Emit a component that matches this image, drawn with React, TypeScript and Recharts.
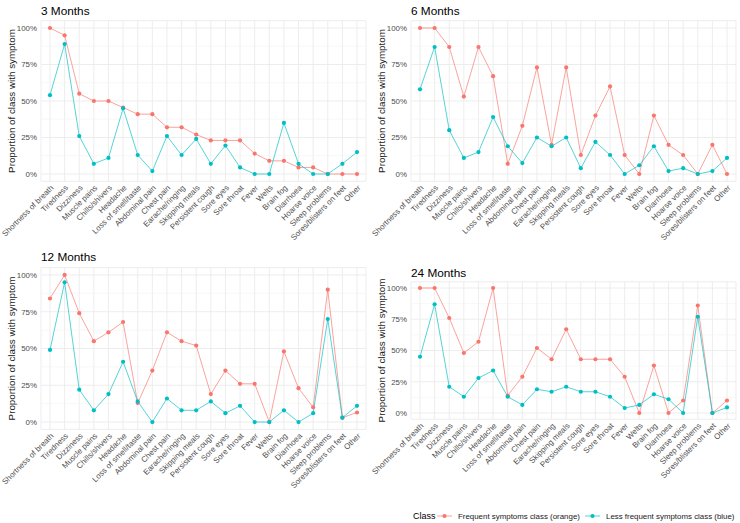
import React from 'react';
import {
  LineChart,
  Line,
  XAxis,
  YAxis,
  CartesianGrid,
  ReferenceLine,
  Label,
} from 'recharts';

// symptom categories, same order in every panel
const symptoms = [
  'Shortness of breath', 'Tiredness', 'Dizziness', 'Muscle pains', 'Chills/shivers',
  'Headache', 'Loss of smell/taste', 'Abdominal pain', 'Chest pain', 'Earache/ringing',
  'Skipping meals', 'Persistent cough', 'Sore eyes', 'Sore throat', 'Fever', 'Welts',
  'Brain fog', 'Diarrhoea', 'Hoarse voice', 'Sleep problems', 'Sores/blisters on feet', 'Other',
];

// proportions (%) per class
const frequent3 = [100, 95, 55, 50, 50, 45.5, 41, 41, 32, 32, 27, 23, 23, 23, 14, 9, 9, 4.5, 4.5, 0, 0, 0];
const lessFrequent3 = [54, 89, 26, 7, 11, 45, 13, 2, 26, 13, 24, 7, 19.5, 4.5, 0, 0, 35, 7, 0, 0, 7, 15];

const frequent6 = [100, 100, 87, 53, 87, 67, 7, 33, 73, 20, 73, 13, 40, 60, 13, 0, 40, 20, 13, 0, 20, 0];
const lessFrequent6 = [58, 87, 30, 11, 15, 39, 19, 7.5, 25, 19, 25, 4, 22, 13, 0, 6, 19, 2, 4, 0, 2, 11];

const frequent12 = [84, 100, 74, 55, 61, 68, 13, 35, 61, 55, 52, 19, 35, 26, 26, 0, 48, 23, 10, 90, 3, 6.5];
const lessFrequent12 = [49, 95, 22, 8, 19, 41, 14, 0, 16, 8, 8, 14, 6, 11, 0, 0, 8, 0, 6, 70, 3, 11];

const frequent24 = [100, 100, 76, 48, 57, 100, 14, 29, 52, 43, 67, 43, 43, 43, 29, 0, 38, 0, 10, 86, 0, 10];
const lessFrequent24 = [45, 87, 21, 13, 28, 34, 13, 6.5, 19, 17, 21, 17, 17, 13, 4, 6.5, 15, 11, 0, 77, 0, 4.5];

const majorTicks = [0, 25, 50, 75, 100];
const minorTicks = [12.5, 37.5, 62.5, 87.5];

const ORANGE = '#F8766D';
const BLUE = '#00BFC4';
const FONT = '"Liberation Sans", Arial, sans-serif';

const buildRows = (frequent: number[], less: number[]) =>
  symptoms.map((name, i) => ({ name, frequent: frequent[i], less: less[i] }));

function XTick({ x, y, payload }: any) {
  return (
    <text
      x={x}
      y={y}
      dy="0.72em"
      transform={`rotate(-45 ${x} ${y})`}
      textAnchor="end"
      fontSize={7.9}
      fill="#4D4D4D"
      fontFamily={FONT}
    >
      {payload.value}
    </text>
  );
}

function YTitle({ viewBox }: any) {
  const cy = viewBox.y + viewBox.height / 2;
  return (
    <text
      x={15}
      y={cy}
      transform={`rotate(-90 15 ${cy})`}
      textAnchor="middle"
      fontSize={9.8}
      fill="#1a1a1a"
      fontFamily={FONT}
    >
      Proportion of class with symptom
    </text>
  );
}

type PanelProps = {
  left: number;
  top: number;
  height: number;
  plotTop: number;
  plotBottom: number;
  rows: { name: string; frequent: number; less: number }[];
};

function Panel({ left, top, height, plotTop, plotBottom, rows }: PanelProps) {
  const xAxisHeight = 60;
  return (
    <div style={{ position: 'absolute', left, top }}>
      <LineChart
        width={370}
        height={height}
        data={rows}
        margin={{ top: plotTop, right: 4, left: 0, bottom: height - xAxisHeight - plotBottom }}
      >
        <CartesianGrid stroke="#EBEBEB" strokeWidth={0.9} />
        {minorTicks.map((v) => (
          <ReferenceLine key={v} y={v} stroke="#F3F3F3" strokeWidth={0.6} />
        ))}
        <XAxis
          dataKey="name"
          interval={0}
          height={xAxisHeight}
          padding={{ left: 9, right: 9 }}
          axisLine={false}
          tickLine={false}
          tickSize={0}
          tickMargin={3}
          tick={<XTick />}
        />
        <YAxis
          width={41}
          domain={[-5, 105]}
          ticks={majorTicks}
          axisLine={false}
          tickLine={false}
          tickSize={0}
          tickMargin={4}
          tickFormatter={(v) => `${v}%`}
          tick={{ fontSize: 7.9, fill: '#4D4D4D', fontFamily: FONT }}
        >
          <Label content={<YTitle />} />
        </YAxis>
        <Line
          dataKey="frequent"
          stroke={ORANGE}
          strokeOpacity={0.75}
          strokeWidth={0.9}
          dot={{ r: 2.1, fill: ORANGE, stroke: 'none', fillOpacity: 1 }}
          isAnimationActive={false}
        />
        <Line
          dataKey="less"
          stroke={BLUE}
          strokeOpacity={0.75}
          strokeWidth={0.9}
          dot={{ r: 2.1, fill: BLUE, stroke: 'none', fillOpacity: 1 }}
          isAnimationActive={false}
        />
      </LineChart>
    </div>
  );
}

export default function App() {
  return (
    <div style={{ position: 'relative', width: 740, height: 523, background: '#fff', overflow: 'hidden' }}>
      <style>{'body{margin:0}'}</style>
      <Panel left={0} top={0} height={250} plotTop={20.7} plotBottom={181.3} rows={buildRows(frequent3, lessFrequent3)} />
      <Panel left={370} top={0} height={250} plotTop={20.7} plotBottom={181.3} rows={buildRows(frequent6, lessFrequent6)} />
      <Panel left={0} top={245} height={255} plotTop={22.6} plotBottom={184.4} rows={buildRows(frequent12, lessFrequent12)} />
      <Panel left={370} top={260} height={240} plotTop={21.75} plotBottom={159.25} rows={buildRows(frequent24, lessFrequent24)} />

      <svg width={740} height={523} style={{ position: 'absolute', left: 0, top: 0, pointerEvents: 'none' }}>
        <g fontFamily={FONT} fill="#000">
          <text x={41} y={15} fontSize={11.8}>3 Months</text>
          <text x={411} y={15} fontSize={11.8}>6 Months</text>
          <text x={41} y={261} fontSize={11.8}>12 Months</text>
          <text x={411} y={277} fontSize={11.8}>24 Months</text>
        </g>
        <g fontFamily={FONT}>
          <text x={413} y={519} fontSize={9} fill="#000">Class</text>
          <line x1={437} x2={452} y1={516} y2={516} stroke={ORANGE} strokeOpacity={0.75} strokeWidth={0.9} />
          <circle cx={444.5} cy={516} r={2.1} fill={ORANGE} />
          <text x={458} y={519} fontSize={7.9} fill="#1a1a1a">Frequent symptoms class (orange)</text>
          <line x1={585} x2={600} y1={516} y2={516} stroke={BLUE} strokeOpacity={0.75} strokeWidth={0.9} />
          <circle cx={592.5} cy={516} r={2.1} fill={BLUE} />
          <text x={606} y={519} fontSize={7.9} fill="#1a1a1a">Less frequent symptoms class (blue)</text>
        </g>
      </svg>
    </div>
  );
}
